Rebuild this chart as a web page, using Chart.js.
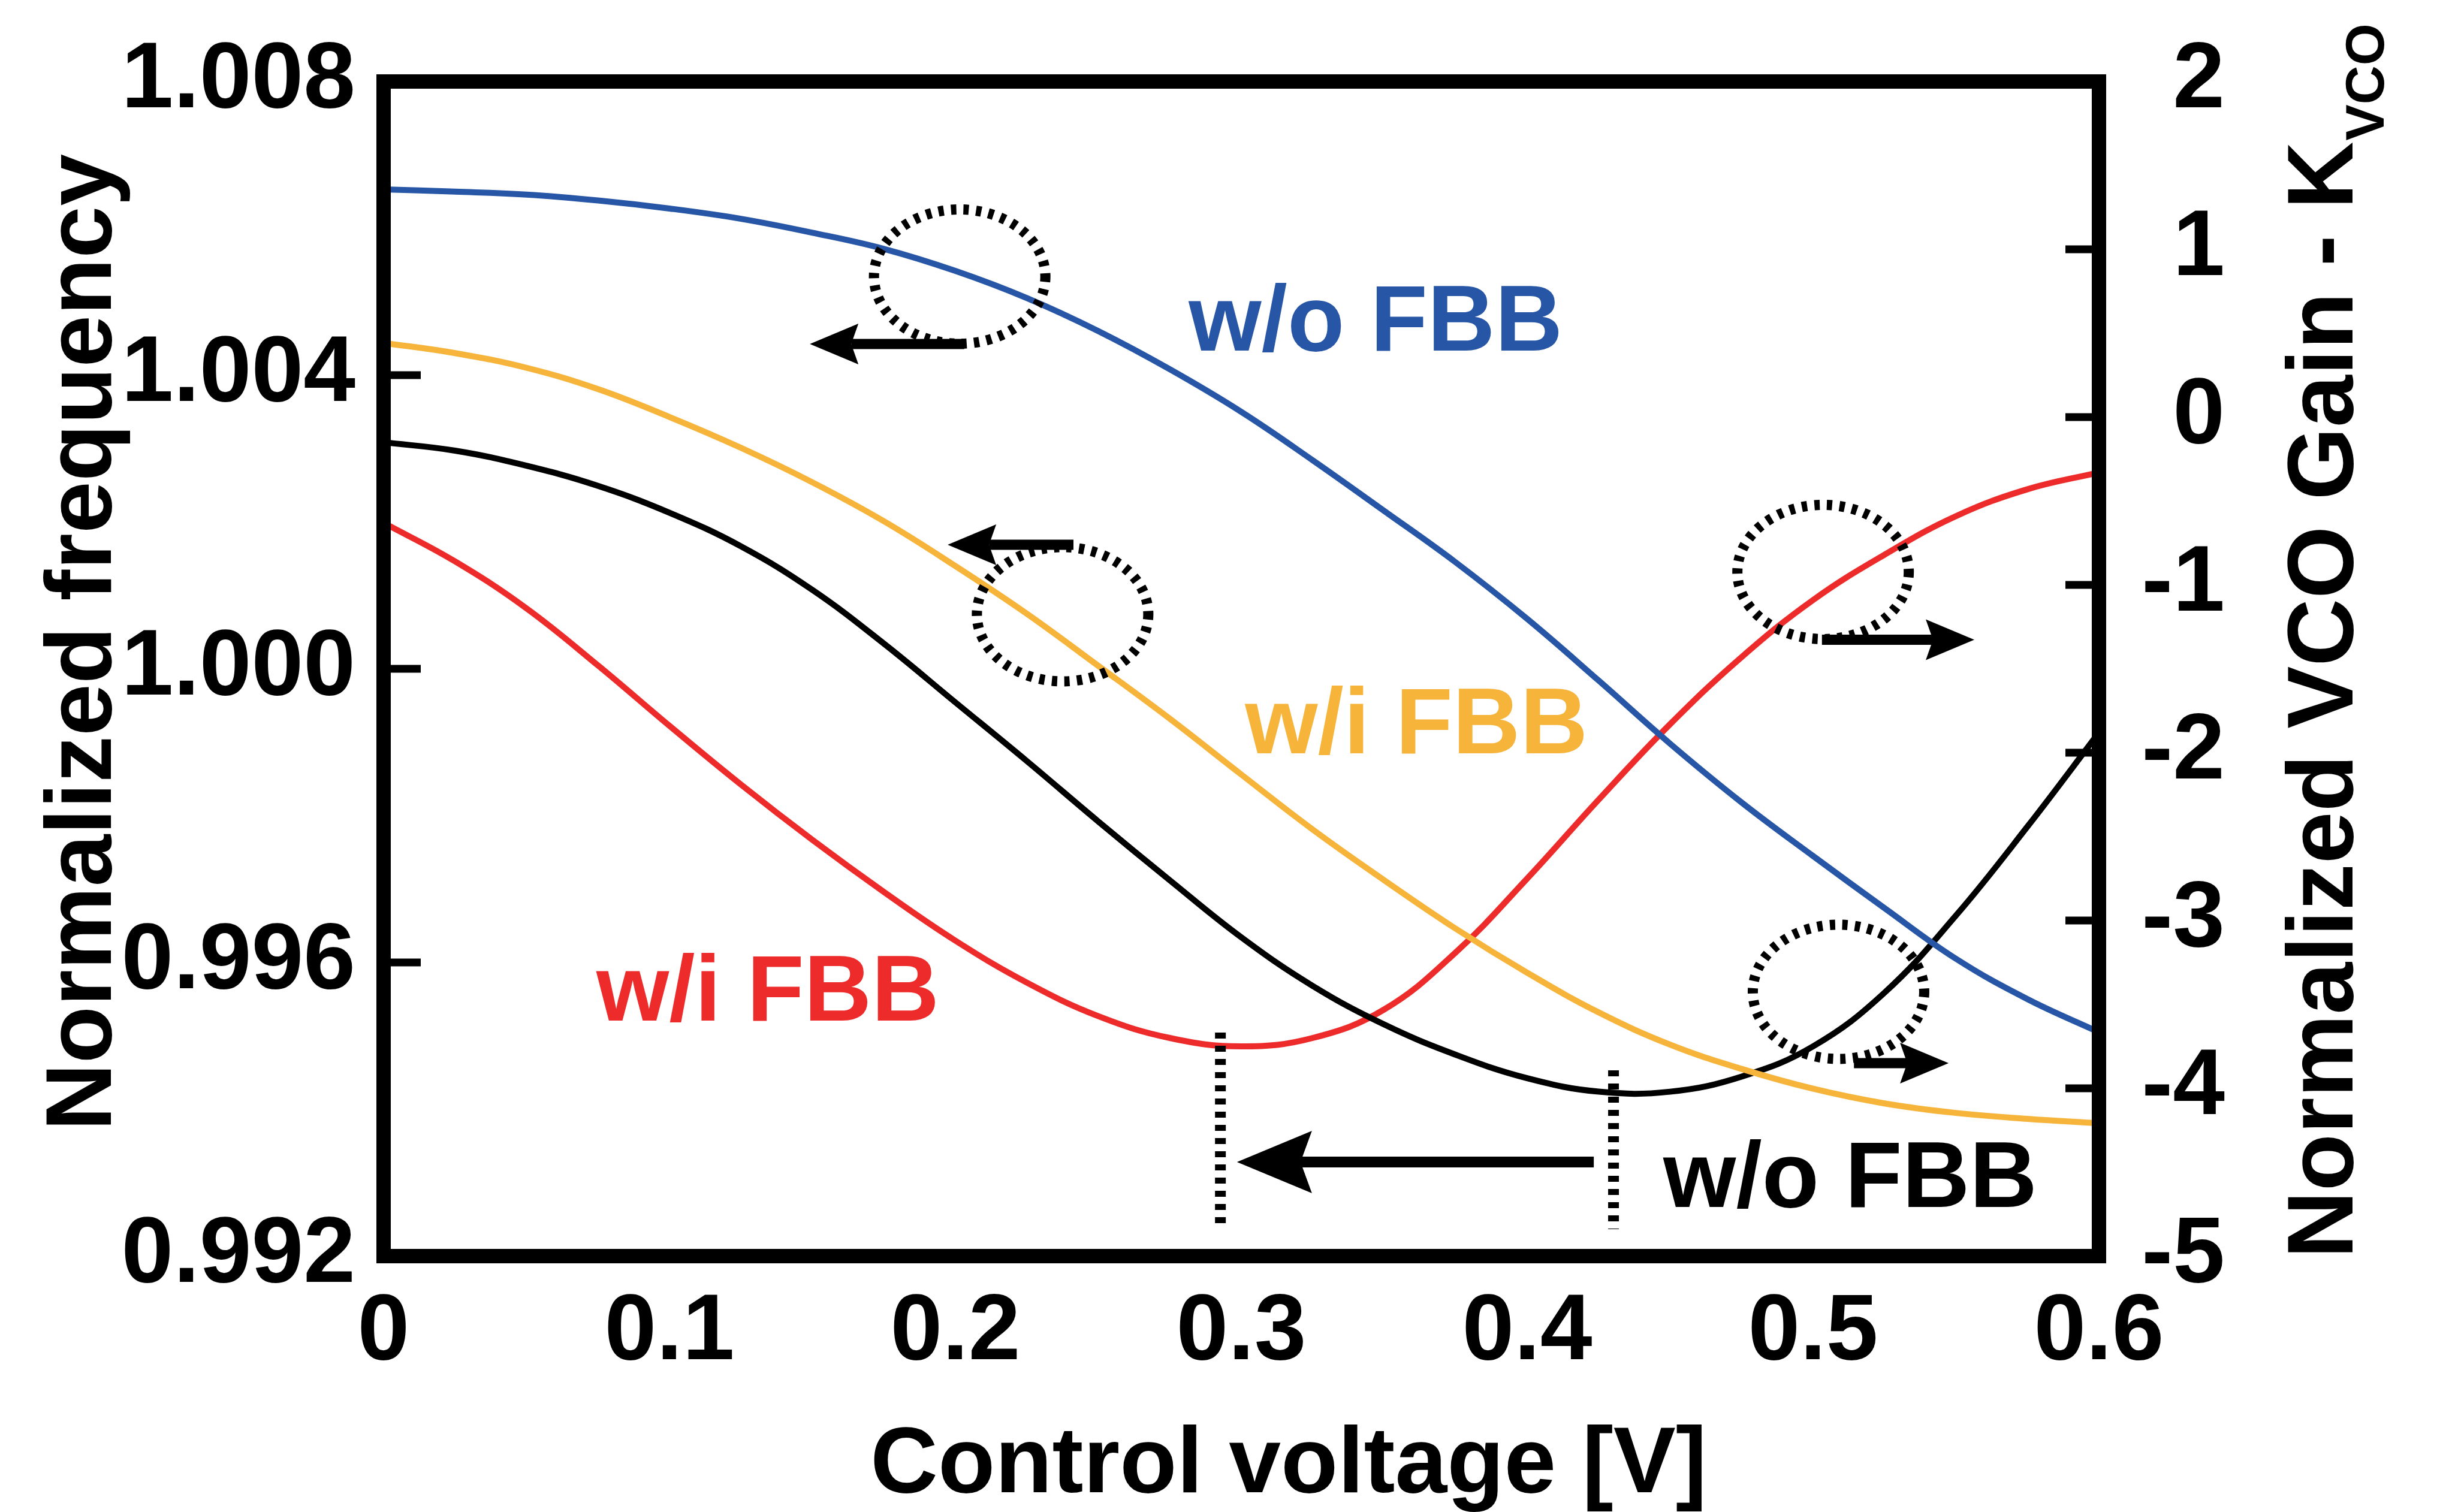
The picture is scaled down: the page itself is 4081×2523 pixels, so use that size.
<!DOCTYPE html>
<html>
<head>
<meta charset="utf-8">
<script src="https://cdn.jsdelivr.net/npm/chart.js@4.4.0/dist/chart.umd.min.js"></script>
<style>
  html, body { margin: 0; padding: 0; background: #fff; }
  #wrap { width: 4081px; height: 2523px; }
</style>
</head>
<body>
<div id="wrap"><canvas id="chart" width="4081" height="2523"></canvas></div>
<script>
// control voltage [V]
const voltage = [0, 0.025, 0.05, 0.075, 0.1, 0.125, 0.15, 0.175, 0.2, 0.225, 0.25, 0.275,
  0.3, 0.325, 0.35, 0.375, 0.4, 0.425, 0.45, 0.475, 0.5, 0.525, 0.55, 0.575, 0.6];

// normalized frequency (left axis)
const freqNoFbb = [1.00653, 1.00650, 1.00646, 1.00638, 1.00627, 1.00613, 1.00594, 1.00572, 1.00542,
  1.00505, 1.00460, 1.00408, 1.00350, 1.00284, 1.00215, 1.00145, 1.00068, 0.99984, 0.99898,
  0.99818, 0.99745, 0.99674, 0.99605, 0.99550, 0.99505];
const freqFbb = [1.00444, 1.00430, 1.00410, 1.00381, 1.00343, 1.00301, 1.00254, 1.00201, 1.00140,
  1.00075, 1.00004, 0.99932, 0.99856, 0.99781, 0.99712, 0.99646, 0.99586, 0.99532, 0.99488,
  0.99455, 0.99428, 0.99408, 0.99395, 0.99387, 0.99381];

// normalized VCO gain (right axis)
const gainNoFbb = [-0.15, -0.20, -0.29, -0.41, -0.57, -0.77, -1.03, -1.35, -1.70, -2.05, -2.41, -2.76,
  -3.10, -3.39, -3.62, -3.80, -3.94, -4.02, -4.02, -3.93, -3.75, -3.43, -2.97, -2.44, -1.88];
const gainFbb = [-0.63, -0.86, -1.14, -1.48, -1.84, -2.19, -2.52, -2.83, -3.12, -3.37, -3.57, -3.70,
  -3.75, -3.70, -3.53, -3.19, -2.75, -2.28, -1.83, -1.43, -1.09, -0.82, -0.59, -0.43, -0.33];

const voltageTicks = [0, 0.1, 0.2, 0.3, 0.4, 0.5, 0.6];
const freqTicks = [0.992, 0.996, 1.000, 1.004, 1.008];
const gainTicks = [-5, -4, -3, -2, -1, 0, 1, 2];

const BLUE = '#2756a6';
const YELLOW = '#f6b43a';
const RED = '#ee2b2b';
const BLACK = '#000000';
const FONT = "'Liberation Sans', Arial, Helvetica, sans-serif";

// callouts, placed in data units (x in V, y in right axis units)
const callouts = [
  { text: 'w/o FBB', color: BLUE, x: 0.2816, y: 0.396 },
  { text: 'w/i FBB', color: YELLOW, x: 0.3013, y: -2.004 },
  { text: 'w/i FBB', color: RED, x: 0.0744, y: -3.596 },
  { text: 'w/o FBB', color: BLACK, x: 0.4476, y: -4.707 }
];
const rings = [
  { x: 0.2015, y: 0.8375 },
  { x: 0.2375, y: -1.175 },
  { x: 0.5035, y: -0.923 },
  { x: 0.5089, y: -3.425 }
];
const arrows = [
  { from: 0.2031, to: 0.1491, y: 0.436, big: false },
  { from: 0.2413, to: 0.1973, y: -0.761, big: false },
  { from: 0.5031, to: 0.5564, y: -1.327, big: false },
  { from: 0.5143, to: 0.5474, y: -3.85, big: false },
  { from: 0.4233, to: 0.2985, y: -4.439, big: true }
];
const minMarkers = [
  { x: 0.2927, top: -3.668, bottom: -4.839 },
  { x: 0.4302, top: -3.893, bottom: -4.839 }
];

function drawArrow(ctx, x0, x1, py, big) {
  const dir = Math.sign(x1 - x0);
  const len = big ? 125 : 81;
  const half = big ? 52 : 34;
  const notch = big ? 106 : 69;
  ctx.lineWidth = big ? 18 : 17;
  ctx.setLineDash([]);
  ctx.beginPath();
  ctx.moveTo(x0, py);
  ctx.lineTo(x1 - dir * notch, py);
  ctx.stroke();
  ctx.beginPath();
  ctx.moveTo(x1, py);
  ctx.lineTo(x1 - dir * len, py - half);
  ctx.lineTo(x1 - dir * notch, py);
  ctx.lineTo(x1 - dir * len, py + half);
  ctx.closePath();
  ctx.fill();
}

const decor = {
  id: 'decor',
  afterDatasetsDraw(chart) {
    const { ctx, chartArea: a } = chart;
    const { x, y, y2 } = chart.scales;
    ctx.save();
    ctx.strokeStyle = BLACK;
    ctx.fillStyle = BLACK;
    ctx.lineCap = 'butt';

    // frame
    ctx.lineWidth = 24;
    ctx.lineJoin = 'miter';
    ctx.strokeRect(a.left, a.top, a.right - a.left, a.bottom - a.top);

    // inward ticks
    ctx.lineWidth = 13;
    freqTicks.forEach(v => {
      const py = y.getPixelForValue(v);
      ctx.beginPath(); ctx.moveTo(a.left, py); ctx.lineTo(a.left + 62, py); ctx.stroke();
    });
    gainTicks.forEach(v => {
      const py = y2.getPixelForValue(v);
      ctx.beginPath(); ctx.moveTo(a.right, py); ctx.lineTo(a.right - 56, py); ctx.stroke();
    });

    // dotted rings
    ctx.lineWidth = 17;
    ctx.setLineDash([9, 12]);
    rings.forEach(r => {
      ctx.beginPath();
      ctx.ellipse(x.getPixelForValue(r.x), y2.getPixelForValue(r.y), 143, 112, 0, 0, Math.PI * 2);
      ctx.stroke();
    });

    // dotted markers at the minima
    ctx.lineWidth = 18;
    ctx.setLineDash([10, 12]);
    minMarkers.forEach(m => {
      const px = x.getPixelForValue(m.x);
      ctx.beginPath();
      ctx.moveTo(px, y2.getPixelForValue(m.top));
      ctx.lineTo(px, y2.getPixelForValue(m.bottom));
      ctx.stroke();
    });

    arrows.forEach(ar => {
      drawArrow(ctx, x.getPixelForValue(ar.from), x.getPixelForValue(ar.to), y2.getPixelForValue(ar.y), ar.big);
    });

    // curve names
    ctx.font = 'bold 156px ' + FONT;
    ctx.textAlign = 'left';
    ctx.textBaseline = 'alphabetic';
    callouts.forEach(c => {
      ctx.fillStyle = c.color;
      ctx.fillText(c.text, x.getPixelForValue(c.x), y2.getPixelForValue(c.y));
    });
    ctx.restore();
  },
  afterDraw(chart) {
    const { ctx } = chart;
    ctx.save();
    ctx.fillStyle = BLACK;
    ctx.font = 'bold 156px ' + FONT;
    ctx.textBaseline = 'alphabetic';

    // x title
    ctx.textAlign = 'center';
    ctx.fillText('Control voltage [V]', 2150, 2490);

    // left title
    ctx.save();
    ctx.translate(185, 1072);
    ctx.rotate(-Math.PI / 2);
    ctx.fillText('Normalized frequency', 0, 0);
    ctx.restore();

    // right title with subscript
    ctx.save();
    ctx.translate(3925, 2100);
    ctx.rotate(-Math.PI / 2);
    ctx.textAlign = 'left';
    const main = 'Normalized VCO Gain - K';
    ctx.fillText(main, 0, 0);
    const w = ctx.measureText(main).width;
    ctx.font = 'bold 90px ' + FONT;
    ctx.fillText('VCO', w + 2, 52);
    ctx.restore();

    ctx.restore();
  }
};

const pts = (xs, ys) => xs.map((v, i) => ({ x: v, y: ys[i] }));
const line = (label, data, color, axis) => ({
  label, data, yAxisID: axis,
  borderColor: color, borderWidth: 10,
  pointRadius: 0, fill: false,
  tension: 0.4
});

const tickFont = { family: FONT, size: 156, weight: 'bold' };

new Chart(document.getElementById('chart'), {
  type: 'line',
  data: {
    datasets: [
      line('Frequency w/o FBB', pts(voltage, freqNoFbb), BLUE, 'y'),
      line('Frequency w/i FBB', pts(voltage, freqFbb), YELLOW, 'y'),
      line('Kvco w/o FBB', pts(voltage, gainNoFbb), BLACK, 'y2'),
      line('Kvco w/i FBB', pts(voltage, gainFbb), RED, 'y2')
    ]
  },
  options: {
    responsive: false,
    devicePixelRatio: 1,
    animation: false,
    layout: { padding: { top: 136, left: 0, right: 369, bottom: 0 } },
    plugins: { legend: { display: false }, tooltip: { enabled: false } },
    scales: {
      x: {
        type: 'linear', min: 0, max: 0.6,
        grid: { display: false }, border: { display: false },
        afterBuildTicks: s => { s.ticks = voltageTicks.map(v => ({ value: v })); },
        afterFit: s => { s.height = 427; },
        ticks: {
          font: tickFont, color: BLACK, padding: 27, maxRotation: 0, autoSkip: false,
          callback: v => (v === 0 ? '0' : v.toFixed(1))
        }
      },
      y: {
        type: 'linear', position: 'left', min: 0.992, max: 1.008,
        grid: { display: false }, border: { display: false },
        afterBuildTicks: s => { s.ticks = freqTicks.map(v => ({ value: v })); },
        afterFit: s => { s.width = 640; },
        ticks: { font: tickFont, color: BLACK, padding: 39, callback: v => v.toFixed(3) }
      },
      y2: {
        type: 'linear', position: 'right', min: -5, max: 2,
        grid: { display: false }, border: { display: false },
        afterBuildTicks: s => { s.ticks = gainTicks.map(v => ({ value: v })); },
        afterFit: s => { s.width = 210; },
        ticks: { font: tickFont, color: BLACK, crossAlign: 'far', callback: v => String(v) }
      }
    }
  },
  plugins: [decor]
});
</script>
</body>
</html>
